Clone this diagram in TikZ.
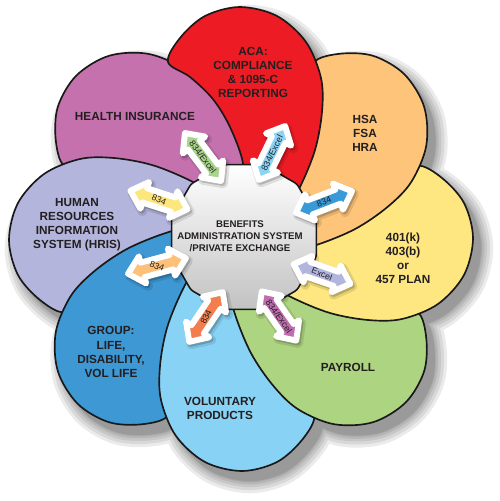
\documentclass[tikz,border=0pt]{standalone}
\usepackage{fontspec}
\setmainfont{Liberation Sans}
\usetikzlibrary{shapes.geometric}
\definecolor{cACA}{HTML}{ED1C24}
\definecolor{cHSA}{HTML}{FDC47A}
\definecolor{cRet}{HTML}{FEE680}
\definecolor{cPay}{HTML}{ADD480}
\definecolor{cVol}{HTML}{88D3F5}
\definecolor{cGroup}{HTML}{3D98D4}
\definecolor{cHRIS}{HTML}{B3B5DC}
\definecolor{cHealth}{HTML}{C571AE}
\definecolor{aGreen}{HTML}{A9D48B}
\definecolor{aSky}{HTML}{8CD4F5}
\definecolor{aBlue}{HTML}{3A9AD8}
\definecolor{aLav}{HTML}{B2B5DE}
\definecolor{aPurple}{HTML}{C06DAF}
\definecolor{aCoral}{HTML}{F27E50}
\definecolor{aPeach}{HTML}{FDC078}
\definecolor{aYellow}{HTML}{FDE67B}
\definecolor{txt}{HTML}{231F20}
\newcommand\PetalPath{plot[smooth cycle, tension=0.55] coordinates {(168,62) (180,38) (205,16) (240,7) (277,16) (306,42) (321,78) (322,112) (315,150) (300,187) (282,218) (262,240) (248,190) (241,155) (228,123) (212,98) (190,77)}}
\newcommand\ArrowPath{(-30,0) -- (-15,-14) -- (-15,-7.5) -- (15,-7.5) -- (15,-14) -- (30,0) -- (15,14) -- (15,7.5) -- (-15,7.5) -- (-15,14) -- cycle}
\tikzset{
  petalline/.style={draw=black!90, line width=0.95pt, line join=round},
  lbl/.style={font=\fontsize{6.7}{8}\selectfont\bfseries, text=txt, align=center, inner sep=0pt},
  arrowlbl/.style={font=\fontsize{5}{5}\selectfont, text=txt, inner sep=0pt},
  arrowbody/.style={draw=white, line width=3.4pt, line join=round}
}
\newcommand\DArrow[7]{%
  \filldraw[black, opacity=0.10, line width=5.5pt, line join=round, shift={(#2+2,#3+2.5)}, rotate=#4] \ArrowPath;
  \filldraw[black, opacity=0.18, line width=3.4pt, line join=round, shift={(#2+1.5,#3+2)}, rotate=#4] \ArrowPath;
  \filldraw[arrowbody, fill=#5, shift={(#2,#3)}, rotate=#4] \ArrowPath;
  \node[arrowlbl, rotate=#7] (#1) at (#2,#3) {#6};
}
\begin{document}
\begin{tikzpicture}[x=0.02cm, y=-0.02cm]
\fill[white] (0,0) rectangle (500,501);
\useasboundingbox (0,0) rectangle (500,501);
% soft shadow of the flower
\foreach \lw in {14pt,10.5pt,7pt,4pt,1.5pt,0.2pt}{
  \begin{scope}[transparency group, opacity=0.08]
    \foreach \k in {0,...,7}{
      \filldraw[black, line width=\lw, line join=round, shift={(8,10)}, rotate around={-45*\k:(241,239)}] \PetalPath;
    }
  \end{scope}
}
% petals
\foreach \k/\c in {7/cHealth,6/cHRIS,5/cGroup,4/cVol,3/cPay,2/cRet,1/cHSA,0/cACA}{
  \filldraw[petalline, fill=\c, rotate around={-45*\k:(241,239)}] \PetalPath;
}
% hub
\node[regular polygon, regular polygon sides=12, minimum size=3cm, inner sep=0pt,
      draw=black!90, line width=0.9pt, top color=white, bottom color=black!24,
      rounded corners=1.5pt] (hub) at (244,237) {};
\node[font=\fontsize{5.5}{6.8}\selectfont\bfseries, align=center, text=txt] (hubtext) at (240,236)
  {BENEFITS\\ADMINISTRATION SYSTEM\\/PRIVATE EXCHANGE};
% petal labels
\node[lbl] (aca) at (253,72.5) {ACA:\\COMPLIANCE\\\& 1095-C\\REPORTING};
\node[lbl] (hsa) at (365,133) {HSA\\FSA\\HRA};
\node[lbl] (ret) at (403,258) {401(k)\\403(b)\\or\\457 PLAN};
\node[lbl] (pay) at (348,367) {PAYROLL};
\node[lbl] (vol) at (220,408.5) {VOLUNTARY\\PRODUCTS};
\node[lbl] (grp) at (111,352) {GROUP:\\LIFE,\\DISABILITY,\\VOL LIFE};
\node[lbl] (hris) at (77,225) {HUMAN\\RESOURCES\\INFORMATION\\SYSTEM (HRIS)};
\node[lbl] (hlth) at (135,116) {HEALTH INSURANCE};
% arrows
\DArrow{arHealth}{203}{157}{-53}{aGreen}{834/Excel}{-53}
\DArrow{arACA}{272}{153}{64}{aSky}{834/Excel}{64}
\DArrow{arHSA}{324}{202}{21}{aBlue}{834}{21}
\DArrow{arRet}{322}{274}{-19}{aLav}{Excel}{-22}
\DArrow{arPay}{279}{316}{-55}{aPurple}{834/Excel}{-55}
\DArrow{arVol}{206}{317}{56}{aCoral}{834}{65}
\DArrow{arGrp}{157}{266}{15}{aPeach}{834}{-20}
\DArrow{arHRIS}{159}{200}{-18}{aYellow}{834}{-24}
\end{tikzpicture}
\end{document}
